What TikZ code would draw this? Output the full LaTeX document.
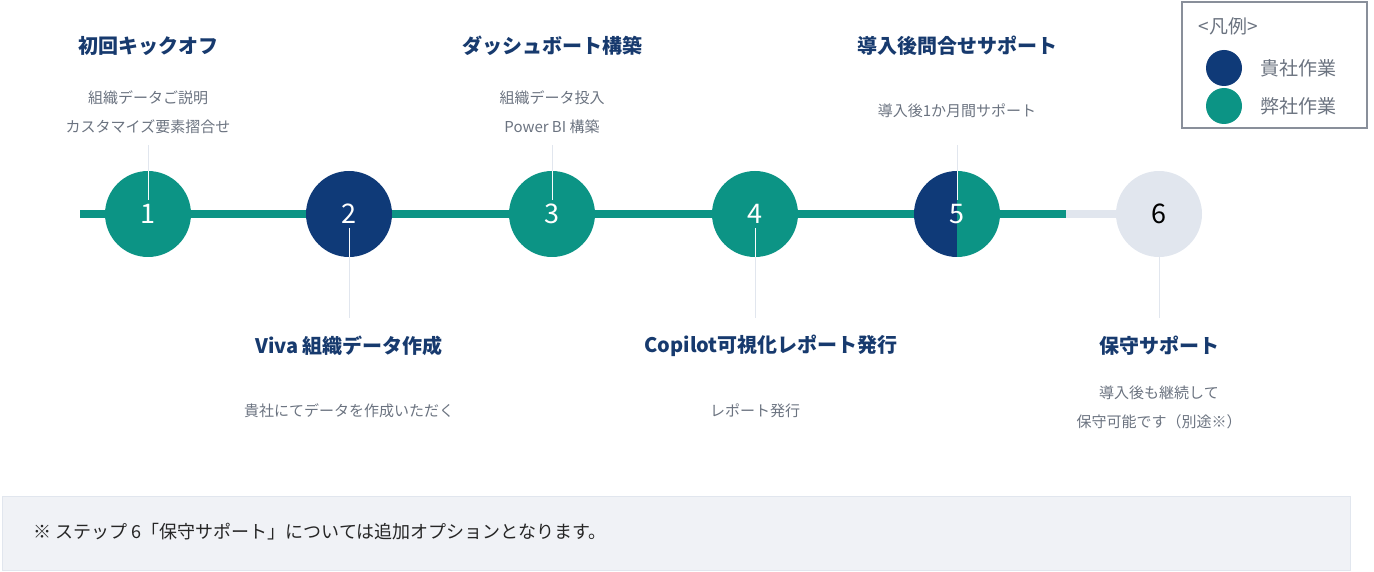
\documentclass[tikz,border=0pt]{standalone}
\usepackage{fontspec}
\setmainfont{Noto Sans CJK JP}
\definecolor{navy}{HTML}{0F3A78}
\definecolor{teal2}{HTML}{0C9485}
\definecolor{lg}{HTML}{E1E6EE}
\definecolor{ttl}{HTML}{173A6E}
\definecolor{sub}{HTML}{6B7380}
\begin{document}
\begin{tikzpicture}[x=1pt,y=-1pt,
  ttlS/.style={font=\fontsize{20}{22}\selectfont\bfseries,text=ttl},
  subS/.style={font=\fontsize{15}{29}\selectfont,text=sub,align=center},
  numS/.style={font=\fontsize{27}{28}\selectfont,text=white},
  vl/.style={draw=lg,line width=0.8pt}]
\useasboundingbox (0,0) rectangle (1374,572);
\draw[lg,line width=8pt] (1066,214) -- (1159,214);
\draw[teal2,line width=8pt] (80,214) -- (1066,214);
% vertical lines
\draw[vl] (148,145) -- (148,214);
\draw[vl] (349,214) -- (349,318);
\draw[vl] (552,145) -- (552,214);
\draw[vl] (755,214) -- (755,318);
\draw[vl] (957,145) -- (957,214);
\draw[vl] (1159,214) -- (1159,318);
% circles
\fill[teal2] (148,214) circle (43);
\fill[navy] (349,214) circle (43);
\fill[teal2] (552,214) circle (43);
\fill[teal2] (755,214) circle (43);
\begin{scope}\clip (900,160) rectangle (957,270); \fill[navy] (957,214) circle (43);\end{scope}
\begin{scope}\clip (957,160) rectangle (1010,270); \fill[teal2] (957,214) circle (43);\end{scope}
\fill[lg] (1159,214) circle (43);
\draw[white!85!lg,line width=0.8pt] (148,171)--(148,200) (349,228)--(349,257) (552,171)--(552,200) (755,228)--(755,257) (957,171)--(957,200);
\node[numS] (n1) at (148,214) {1};
\node[numS] (n2) at (349,214) {2};
\node[numS] (n3) at (552,214) {3};
\node[numS] (n4) at (755,214) {4};
\node[numS] (n5) at (957,214) {5};
\node[numS,text=black] (n6) at (1159,214) {6};
% texts
\node[ttlS] (t1) at (148,46) {初回キックオフ};
\node[subS] (s1) at (148,112) {組織データご説明\\カスタマイズ要素摺合せ};
\node[ttlS] (t3) at (552,46) {ダッシュボート構築};
\node[subS] (s3) at (552,112) {組織データ投入\\Power BI 構築};
\node[ttlS] (t5) at (957,46) {導入後問合せサポート};
\node[subS] (s5) at (957,111) {導入後1か月間サポート};
\node[ttlS] (t2) at (349,346) {Viva 組織データ作成};
\node[subS] (s2) at (349,411) {貴社にてデータを作成いただく};
\node[ttlS] (t4) at (771,346) {Copilot可視化レポート発行};
\node[subS] (s4) at (755,411) {レポート発行};
\node[ttlS] (t6) at (1159,346) {保守サポート};
\node[subS] (s6) at (1159,407) {導入後も継続して\\保守可能です（別途※）};
% legend
\draw[sub!80,line width=1.5pt,fill=white] (1182,2) rectangle (1367,128);
\node[font=\fontsize{19}{20}\selectfont,text=sub] (lt) at (1228,26) {<凡例>};
\fill[navy] (1224,68) circle (18);
\fill[teal2] (1224,106) circle (18);
\node[font=\fontsize{19}{20}\selectfont,text=sub] (l1) at (1298,68) {貴社作業};
\node[font=\fontsize{19}{20}\selectfont,text=sub] (l2) at (1298,106) {弊社作業};
% bottom box
\draw[lg,fill=lg!50!white] (2,496) rectangle (1350,570);
\node[anchor=west,font=\fontsize{18}{20}\selectfont,text=black!85] (note) at (30,532) {※ ステップ 6「保守サポート」については追加オプションとなります。};
\end{tikzpicture}
\end{document}
